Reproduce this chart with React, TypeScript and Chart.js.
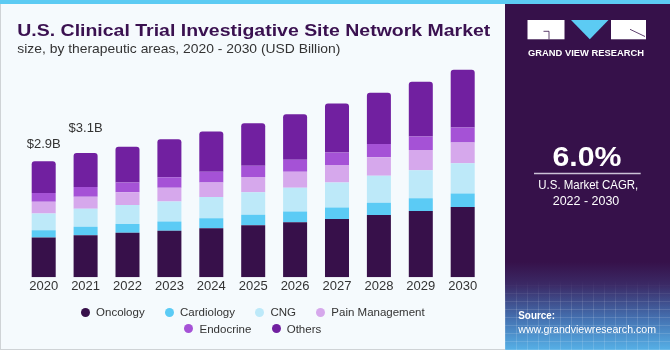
import React, { useEffect, useRef } from "react";
import { Chart, registerables } from "chart.js";

Chart.register(...registerables);

const years = ["2020", "2021", "2022", "2023", "2024", "2025", "2026", "2027", "2028", "2029", "2030"];
const oncology = [0.99, 1.05, 1.11, 1.16, 1.22, 1.3, 1.37, 1.45, 1.55, 1.65, 1.75];
const cardiology = [0.18, 0.21, 0.22, 0.23, 0.25, 0.26, 0.27, 0.29, 0.31, 0.32, 0.34];
const cng = [0.42, 0.45, 0.47, 0.5, 0.53, 0.56, 0.59, 0.62, 0.67, 0.7, 0.75];
const painManagement = [0.29, 0.3, 0.32, 0.34, 0.36, 0.38, 0.4, 0.44, 0.46, 0.5, 0.52];
const endocrine = [0.22, 0.24, 0.24, 0.26, 0.27, 0.28, 0.3, 0.31, 0.33, 0.34, 0.37];
const others = [0.79, 0.85, 0.89, 0.95, 1.0, 1.06, 1.13, 1.22, 1.28, 1.36, 1.44];
const totalLabels = ["$2.9B", "$3.1B"];

const seriesNames = ["Oncology", "Cardiology", "CNG", "Pain Management", "Endocrine", "Others"];
const seriesValues = [oncology, cardiology, cng, painManagement, endocrine, others];
const seriesColors = ["#37104a", "#5bcbf5", "#bde9f9", "#d6a8ec", "#a552d6", "#7120a0"];

const FONT = "'Liberation Sans', Arial, sans-serif";

const totalLabelPlugin = {
  id: "totalLabels",
  afterDatasetsDraw(chart: any) {
    const ctx = chart.ctx;
    const meta = chart.getDatasetMeta(chart.data.datasets.length - 1);
    const offsets = [13, 21];
    ctx.save();
    ctx.font = `13px ${FONT}`;
    ctx.fillStyle = "#333333";
    ctx.textAlign = "center";
    ctx.textBaseline = "alphabetic";
    totalLabels.forEach((t, i) => {
      const el = meta.data[i];
      if (!el) return;
      ctx.fillText(t, el.x, el.y - offsets[i]);
    });
    ctx.restore();
  },
};

function ChartCanvas() {
  const ref = useRef<HTMLCanvasElement>(null);
  useEffect(() => {
    if (!ref.current) return;
    const last = seriesNames.length - 1;
    const chart = new Chart(ref.current, {
      type: "bar",
      data: {
        labels: years,
        datasets: seriesNames.map((name, i) => ({
          label: name,
          data: seriesValues[i],
          backgroundColor: seriesColors[i],
          borderWidth: 0,
          borderSkipped: i === last ? false : "start",
          borderRadius: i === last ? { topLeft: 3, topRight: 3, bottomLeft: 0, bottomRight: 0 } : 0,
          barPercentage: 0.573,
          categoryPercentage: 1,
        })),
      },
      options: {
        animation: false,
        responsive: false,
        maintainAspectRatio: false,
        layout: { padding: { left: 22.75, right: 21.35, top: 36.5, bottom: 5.1 } },
        plugins: { legend: { display: false }, tooltip: { enabled: false } },
        scales: {
          x: {
            stacked: true,
            grid: { display: false, drawTicks: false },
            border: { display: false },
            ticks: { color: "#333333", font: { family: FONT, size: 13 }, padding: 1, maxRotation: 0 },
          },
          y: { stacked: true, display: false, min: 0, max: 6 },
        },
      },
      plugins: [totalLabelPlugin],
    });
    return () => chart.destroy();
  }, []);
  return (
    <canvas
      ref={ref}
      width={505}
      height={300}
      style={{ position: "absolute", left: 0, top: 0, width: 505, height: 300 }}
    />
  );
}

export default function App() {
  return (
    <div style={{ position: "absolute", left: 0, top: 0, width: 670, height: 350, overflow: "hidden", fontFamily: FONT }}>
      <div
        style={{
          position: "absolute",
          left: 0,
          top: 0,
          width: 505,
          height: 350,
          background: "#f5fafd",
          boxSizing: "border-box",
          borderLeft: "1px solid #cfd3d6",
          borderBottom: "1px solid #cfd3d6",
        }}
      />
      <div
        style={{
          position: "absolute",
          left: 505,
          top: 0,
          width: 165,
          height: 350,
          background:
            "linear-gradient(to bottom, #36114a 0px, #36114a 262px, #3b2a66 285px, #4470b0 318px, #56b0e6 350px)",
        }}
      />
      <div
        style={{
          position: "absolute",
          left: 505,
          top: 280,
          width: 165,
          height: 70,
          backgroundImage:
            "repeating-linear-gradient(90deg, rgba(255,255,255,0.13) 0px, rgba(255,255,255,0.13) 1px, transparent 1px, transparent 11px), repeating-linear-gradient(0deg, rgba(255,255,255,0.13) 0px, rgba(255,255,255,0.13) 1px, transparent 1px, transparent 8px)",
          WebkitMaskImage: "linear-gradient(to bottom, transparent, black 40%)",
          maskImage: "linear-gradient(to bottom, transparent, black 40%)",
        }}
      />
      <div style={{ position: "absolute", left: 0, top: 0, width: 670, height: 4, background: "#5ccbf3" }} />
      <ChartCanvas />
      <svg width={670} height={350} style={{ position: "absolute", left: 0, top: 0 }}>
        <text x={17.3} y={35.7} fontFamily={FONT} fontWeight="bold" fontSize={17.3} fill="#3a1150" textLength={473} lengthAdjust="spacingAndGlyphs">
          U.S. Clinical Trial Investigative Site Network Market
        </text>
        <text x={17.3} y={53} fontFamily={FONT} fontSize={13.5} fill="#333333" textLength={323} lengthAdjust="spacingAndGlyphs">
          size, by therapeutic areas, 2020 - 2030 (USD Billion)
        </text>
        {/* logo */}
        <rect x={527.5} y={20} width={37} height={19.3} fill="#ffffff" />
        <path d="M543.5 31.3 H549 V39.3" stroke="#36114a" strokeWidth={0.8} fill="none" />
        <polygon points="571,20 608.5,20 589.8,39.3" fill="#5ccbf3" />
        <rect x={611} y={20} width={35} height={19.3} fill="#ffffff" />
        <path d="M630 29.3 L645 36.5" stroke="#36114a" strokeWidth={0.8} fill="none" />
        <text x={528} y={55.5} fontFamily={FONT} fontWeight="bold" fontSize={9} fill="#ffffff" textLength={116} lengthAdjust="spacingAndGlyphs">
          GRAND VIEW RESEARCH
        </text>
        <text x={587} y={165.7} textAnchor="middle" fontFamily={FONT} fontWeight="bold" fontSize={27} fill="#ffffff" textLength={69} lengthAdjust="spacingAndGlyphs">
          6.0%
        </text>
        <line x1={534} y1={173.5} x2={640.7} y2={173.5} stroke="#cbc2d6" strokeWidth={1.5} />
        <text x={588.3} y={189.3} textAnchor="middle" fontFamily={FONT} fontSize={12} fill="#ffffff" textLength={100} lengthAdjust="spacingAndGlyphs">
          U.S. Market CAGR,
        </text>
        <text x={586} y={205} textAnchor="middle" fontFamily={FONT} fontSize={12} fill="#ffffff" textLength={66.6} lengthAdjust="spacingAndGlyphs">
          2022 - 2030
        </text>
        <text x={518.3} y={319.3} fontFamily={FONT} fontWeight="bold" fontSize={11} fill="#ffffff" textLength={36.7} lengthAdjust="spacingAndGlyphs">
          Source:
        </text>
        <text x={518.3} y={332.5} fontFamily={FONT} fontSize={11.5} fill="#ffffff" textLength={137.7} lengthAdjust="spacingAndGlyphs">
          www.grandviewresearch.com
        </text>
      </svg>
      <div style={{ position: "absolute", left: 0, top: 304, width: 505.6 }}>
        {[[0, 1, 2, 3], [4, 5]].map((row, r) => (
          <div
            key={r}
            style={{ display: "flex", justifyContent: "center", alignItems: "center", height: 16.4, fontSize: 11.5, color: "#333333", whiteSpace: "nowrap" }}
          >
            {row.map((i, k) => (
              <div key={i} style={{ display: "flex", alignItems: "center", marginLeft: k === 0 ? 0 : 20.2 }}>
                <span style={{ width: 9, height: 9, borderRadius: "50%", background: seriesColors[i], marginRight: 6.2, display: "inline-block" }} />
                <span>{seriesNames[i]}</span>
              </div>
            ))}
          </div>
        ))}
      </div>
    </div>
  );
}
